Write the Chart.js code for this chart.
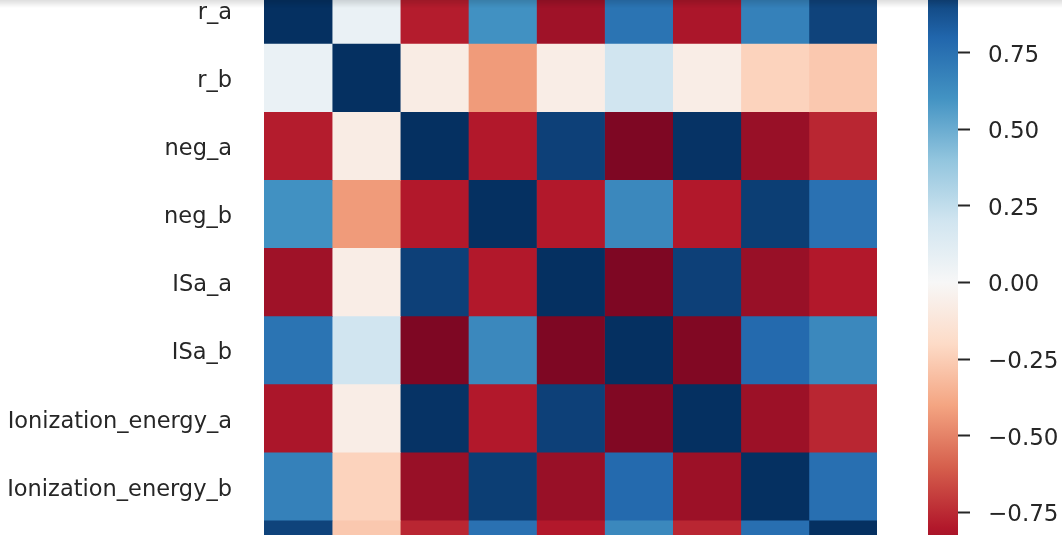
<!DOCTYPE html>
<html>
<head>
<meta charset="utf-8">
<script src="https://cdn.jsdelivr.net/npm/chart.js@4/dist/chart.umd.min.js"></script>
<style>
  html, body { margin: 0; padding: 0; background: #ffffff; }
  #wrap { position: relative; width: 1062px; height: 535px; overflow: hidden; background: #ffffff; }
  #heat { position: absolute; left: 0; top: -24px; }
  #cbar { position: absolute; left: 928px; top: -24px; }
  #shade { position: absolute; left: 0; top: 0; width: 1062px; height: 8px;
           background: linear-gradient(rgba(0,0,0,0.13), rgba(0,0,0,0)); pointer-events: none; }
</style>
</head>
<body>
<div id="wrap">
  <canvas id="heat" width="877" height="613" style="width:877px;height:613px"></canvas>
  <canvas id="cbar" width="134" height="613" style="width:134px;height:613px"></canvas>
  <div id="shade"></div>
</div>
<script>
// ---- data ----
const variables = ['r_a', 'r_b', 'neg_a', 'neg_b', 'ISa_a', 'ISa_b',
                   'Ionization_energy_a', 'Ionization_energy_b', 'target'];
const corr_r_a   = [ 1.00,  0.07, -0.79,  0.61, -0.85,  0.74, -0.82,  0.68,  0.93];
const corr_r_b   = [ 0.07,  1.00, -0.08, -0.43, -0.07,  0.20, -0.07, -0.23, -0.27];
const corr_neg_a = [-0.79, -0.08,  1.00, -0.80,  0.94, -0.94,  0.99, -0.87, -0.76];
const corr_neg_b = [ 0.61, -0.43, -0.80,  1.00, -0.80,  0.65, -0.80,  0.95,  0.75];
const corr_ISa_a = [-0.85, -0.07,  0.94, -0.80,  1.00, -0.94,  0.94, -0.87, -0.80];
const corr_ISa_b = [ 0.74,  0.20, -0.94,  0.65, -0.94,  1.00, -0.93,  0.78,  0.65];
const corr_IE_a  = [-0.82, -0.07,  0.99, -0.80,  0.94, -0.93,  1.00, -0.86, -0.76];
const corr_IE_b  = [ 0.68, -0.23, -0.87,  0.95, -0.87,  0.78, -0.86,  1.00,  0.76];
const corr_target= [ 0.93, -0.27, -0.76,  0.75, -0.80,  0.65, -0.76,  0.76,  1.00];
const colorbarTicks = [-0.75, -0.5, -0.25, 0, 0.25, 0.5, 0.75];
const colorRange = [-1, 1];

const matrix = [corr_r_a, corr_r_b, corr_neg_a, corr_neg_b, corr_ISa_a,
                corr_ISa_b, corr_IE_a, corr_IE_b, corr_target];

// ---- RdBu colormap ----
const RDBU = ['#67001f','#b2182b','#d6604d','#f4a582','#fddbc7','#f7f7f7',
              '#d1e5f0','#92c5de','#4393c3','#2166ac','#053061'];
function hex2rgb(h){ return [1,3,5].map(i => parseInt(h.slice(i, i+2), 16)); }
const RDBU_RGB = RDBU.map(hex2rgb);
function rdbu(v){
  const [lo, hi] = colorRange;
  const t = (Math.max(lo, Math.min(hi, v)) - lo) / (hi - lo) * (RDBU.length - 1);
  const i = Math.min(RDBU.length - 2, Math.floor(t));
  const f = t - i;
  const a = RDBU_RGB[i], b = RDBU_RGB[i+1];
  const c = a.map((x, k) => Math.round(x + (b[k] - x) * f));
  return `rgb(${c[0]},${c[1]},${c[2]})`;
}

const LABEL_FONT = { family: 'DejaVu Sans', size: 22.5 };
const CBAR_FONT = { family: 'DejaVu Sans', size: 23 };
const TEXT = '#262626';

// ---- heatmap: one dataset per column, floating horizontal bars ----
const datasets = variables.map((col, j) => ({
  label: col,
  data: variables.map(() => [j, j + 1]),
  backgroundColor: matrix.map(row => rdbu(row[j])),
  borderWidth: 0,
  grouped: false,
  barPercentage: 1,
  categoryPercentage: 1
}));

new Chart(document.getElementById('heat'), {
  type: 'bar',
  data: { labels: variables, datasets },
  options: {
    indexAxis: 'y',
    responsive: false,
    animation: false,
    layout: { padding: 0, autoPadding: false },
    plugins: { legend: { display: false }, tooltip: { enabled: false } },
    scales: {
      x: { type: 'linear', min: 0, max: variables.length, display: false },
      y: {
        type: 'category',
        position: 'left',
        grid: { display: false, drawTicks: false },
        border: { display: false },
        ticks: { font: LABEL_FONT, color: TEXT, padding: 32, autoSkip: false, labelOffset: 3 },
        afterFit: s => { s.width = 264; s.paddingTop = 0; s.paddingBottom = 0; }
      }
    }
  }
});

// ---- colorbar ----
new Chart(document.getElementById('cbar'), {
  type: 'bar',
  data: {
    labels: [''],
    datasets: [{
      data: [colorRange],
      borderWidth: 0,
      barPercentage: 1,
      categoryPercentage: 1,
      backgroundColor: ctx => {
        const chart = ctx.chart;
        if (!chart.chartArea) return RDBU[5];
        const y = chart.scales.y;
        const g = chart.ctx.createLinearGradient(0, y.getPixelForValue(colorRange[0]), 0, y.getPixelForValue(colorRange[1]));
        RDBU.forEach((c, i) => g.addColorStop(i / (RDBU.length - 1), c));
        return g;
      }
    }]
  },
  options: {
    responsive: false,
    animation: false,
    layout: { padding: 0, autoPadding: false },
    plugins: { legend: { display: false }, tooltip: { enabled: false } },
    scales: {
      x: { display: false },
      y: {
        type: 'linear',
        position: 'right',
        min: colorRange[0],
        max: colorRange[1],
        afterBuildTicks: s => { s.ticks = colorbarTicks.map(v => ({ value: v })); },
        grid: { display: true, drawOnChartArea: false, drawTicks: true,
                tickLength: 12, tickColor: TEXT, tickWidth: 2 },
        border: { display: false },
        ticks: {
          font: CBAR_FONT, color: TEXT, padding: 18, labelOffset: 3,
          callback: v => v.toFixed(2).replace('-', '\u2212')
        },
        afterFit: s => { s.width = 104; s.paddingTop = 0; s.paddingBottom = 0; }
      }
    }
  }
});
</script>
</body>
</html>
